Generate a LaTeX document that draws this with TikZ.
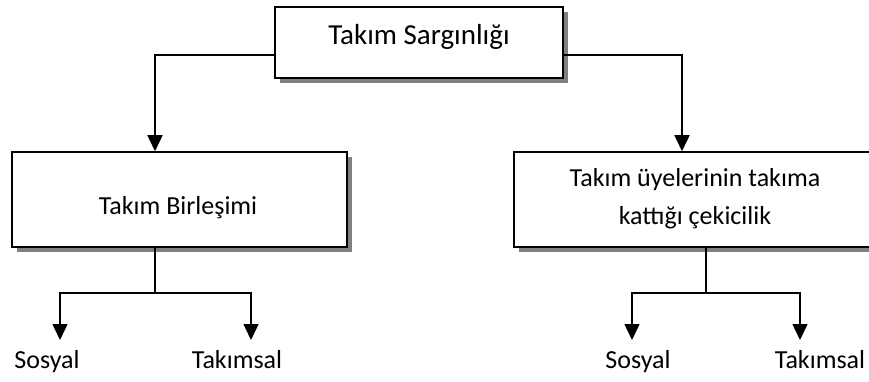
\documentclass[tikz,border=0pt]{standalone}
\usepackage{fontspec}
\setmainfont{Carlito}
\usetikzlibrary{arrows.meta,shadows}

\begin{document}
\begin{tikzpicture}[
          x=1pt, y=-1pt,
          box/.style={draw, line width=1.5pt, fill=white, inner sep=0pt,
            drop shadow={shadow xshift=5pt, shadow yshift=-5pt, fill=black!50, opacity=1}},
          lab/.style={font=\fontsize{26}{38}\selectfont, align=center},
          biglab/.style={font=\fontsize{29}{38}\selectfont, align=center},
          arr/.style={line width=1.5pt, -{Triangle[width=15pt, length=16pt]}},
          ln/.style={line width=1.5pt}
        ]
        \useasboundingbox (0,0) rectangle (869,382);
        % boxes
        \node[box, minimum width=288pt, minimum height=71pt] (top) at (419,42.5) {};
        \node[biglab] (toplab) at (419,37) {Takım Sargınlığı};
        \node[box, minimum width=335pt, minimum height=95pt] (left) at (179.5,199.5) {};
        \node[lab] (leftlab) at (178,208) {Takım Birleşimi};
        \node[box, minimum width=360pt, minimum height=95pt] (right) at (694,199.5) {};
        \node[lab] (rightlab) at (695,199) {Takım üyelerinin takıma\\kattığı çekicilik};

        % top connectors
        \coordinate (lt) at (155,55);
        \coordinate (rt) at (682,55);
        \draw[arr] (top.west |- lt) -| (left.north -| lt);
        \draw[arr] (top.east |- rt) -| (right.north -| rt);

        % leaves
        \node[lab, anchor=base] (ls) at (47,368) {Sosyal};
        \node[lab, anchor=base] (lk) at (237,368) {Takımsal};
        \node[lab, anchor=base] (rs) at (638,368) {Sosyal};
        \node[lab, anchor=base] (rk) at (820,368) {Takımsal};

        \coordinate (lb) at (155,293);
        \coordinate (rb) at (706,293);
        \coordinate (lsa) at (60,340);
        \coordinate (lka) at (251,340);
        \coordinate (rsa) at (632,340);
        \coordinate (rka) at (800,340);
        \draw[ln] (left.south -| lb) -- (lb);
        \draw[arr] (lb) -| (lsa);
        \draw[arr] (lb) -| (lka);
        \draw[ln] (right.south -| rb) -- (rb);
        \draw[arr] (rb) -| (rsa);
        \draw[arr] (rb) -| (rka);
      \end{tikzpicture}
\end{document}
